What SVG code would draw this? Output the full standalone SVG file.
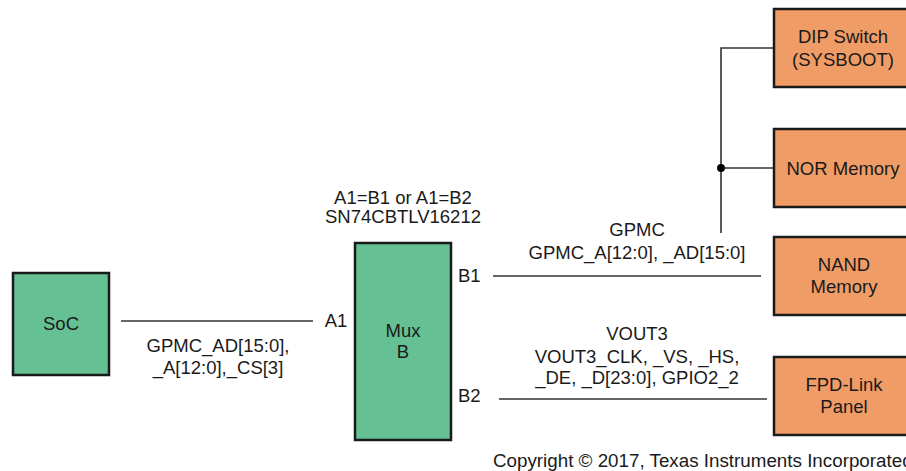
<svg xmlns="http://www.w3.org/2000/svg" width="906" height="471" viewBox="0 0 906 471">
<style>
text{font-family:"Liberation Sans",Arial,sans-serif;font-size:18.5px;fill:#1a1a1a}
.c{text-anchor:middle}
.g{fill:#65c194;stroke:#1a1a1a;stroke-width:2.5}
.o{fill:#f09c66;stroke:#1a1a1a;stroke-width:2.5}
.w{stroke:#333;stroke-width:1.6;fill:none}
</style>
<rect width="906" height="471" fill="#fff"/>
<g id="connectors">
<line class="w" x1="121" y1="321" x2="313" y2="321"/>
<line class="w" x1="493" y1="276" x2="761" y2="276"/>
<line class="w" x1="499" y1="399" x2="767" y2="399"/>
<polyline class="w" points="774,48 721,48 721,233"/>
<line class="w" x1="721" y1="168" x2="774" y2="168"/>
<circle cx="721" cy="168" r="4" fill="#000"/>
<text class="c" x="218" y="352">GPMC_AD[15:0],</text>
<text class="c" x="218" y="374">_A[12:0],_CS[3]</text>
<text class="c" x="637" y="236">GPMC</text>
<text class="c" x="637" y="259">GPMC_A[12:0], _AD[15:0]</text>
<text class="c" x="637" y="340">VOUT3</text>
<text class="c" x="637" y="363">VOUT3_CLK, _VS, _HS,</text>
<text class="c" x="637" y="384">_DE, _D[23:0], GPIO2_2</text>
</g>
<g id="soc">
<rect class="g" x="13" y="273" width="96" height="102"/>
<text class="c" x="61" y="330">SoC</text>
</g>
<g id="mux">
<rect class="g" x="355" y="243" width="96" height="197"/>
<text class="c" x="403" y="337">Mux</text>
<text class="c" x="403" y="358">B</text>
<text class="c" x="403" y="204">A1=B1 or A1=B2</text>
<text class="c" x="403" y="223">SN74CBTLV16212</text>
<text class="c" x="336" y="327">A1</text>
<text x="458" y="282">B1</text>
<text x="458" y="402">B2</text>
</g>
<g id="dip">
<rect class="o" x="774" y="9" width="140" height="78"/>
<text class="c" x="843" y="43">DIP Switch</text>
<text class="c" x="843" y="66">(SYSBOOT)</text>
</g>
<g id="nor">
<rect class="o" x="774" y="129" width="140" height="78"/>
<text class="c" x="843" y="175">NOR Memory</text>
</g>
<g id="nand">
<rect class="o" x="774" y="237" width="140" height="78"/>
<text class="c" x="844" y="271">NAND</text>
<text class="c" x="844" y="293">Memory</text>
</g>
<g id="fpd">
<rect class="o" x="774" y="357" width="140" height="78"/>
<text class="c" x="844" y="391">FPD-Link</text>
<text class="c" x="844" y="413">Panel</text>
</g>
<text x="493" y="467" style="font-size:18.8px">Copyright © 2017, Texas Instruments Incorporated</text>
</svg>
